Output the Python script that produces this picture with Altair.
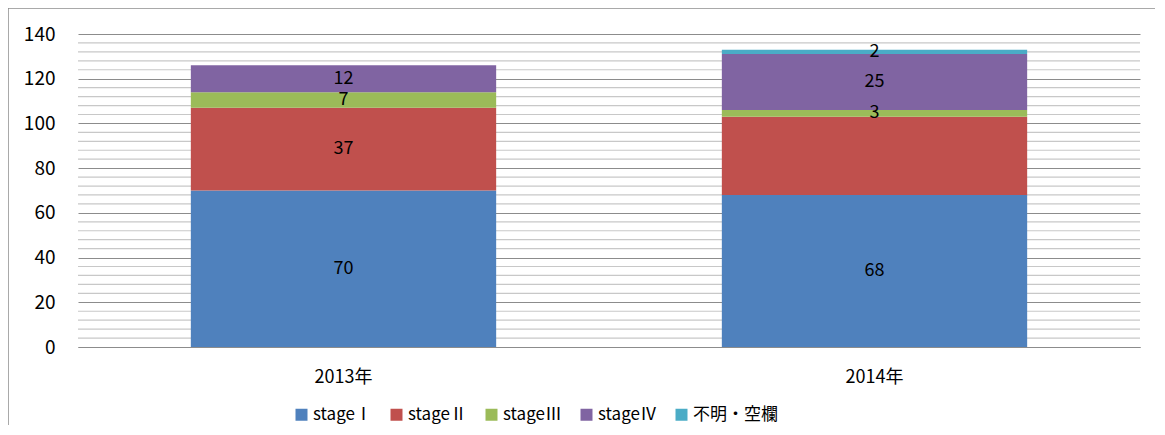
import altair as alt
import pandas as pd

years = ["2013年", "2014年"]
stages = ["stageⅠ", "stageⅡ", "stageⅢ", "stageⅣ", "不明・空欄"]
colors = ["#4F81BD", "#C0504D", "#9BBB59", "#8064A2", "#4BACC6"]
values_2013 = [70, 37, 7, 12, 0]
values_2014 = [68, 35, 3, 25, 2]
labels_2013 = ["70", "37", "7", "12", ""]
labels_2014 = ["68", "", "3", "25", "2"]
minor_ticks = [v for v in range(0, 141, 4) if v % 20 != 0]

rows = []
for yr, vals, labs in [(years[0], values_2013, labels_2013), (years[1], values_2014, labels_2014)]:
    for i, (s, v, l) in enumerate(zip(stages, vals, labs)):
        rows.append({"year": yr, "stage": s, "value": v, "label": l, "order": i})
df = pd.DataFrame(rows)

FONT = "Noto Sans CJK JP"
y_scale = alt.Scale(domain=[0, 140], nice=False)

minor_grid = alt.Chart(pd.DataFrame({"v": minor_ticks})).mark_rule(
    color="#c8c8c8", strokeWidth=1.2
).encode(y=alt.Y("v:Q", scale=y_scale, title=None))

base = alt.Chart(df).transform_stack(
    stack="value", groupby=["year"], as_=["y0", "y1"],
    sort=[alt.SortField("order", order="ascending")]
).transform_calculate(mid="(datum.y0 + datum.y1) / 2")

x_enc = alt.X("year:N", title=None, sort=years,
              scale=alt.Scale(paddingInner=0.425, paddingOuter=0.2125))

bars = base.mark_bar().encode(
    x=x_enc,
    y=alt.Y("y1:Q", title=None, scale=y_scale),
    y2="y0:Q",
    color=alt.Color("stage:N", scale=alt.Scale(domain=stages, range=colors),
                    legend=alt.Legend(title=None, orient="none", direction="horizontal",
                                      legendX=215, legendY=372, symbolType="square",
                                      symbolSize=144, symbolStrokeWidth=0,
                                      labelFontSize=17, labelFont=FONT, labelColor="#000000",
                                      columnPadding=16, labelOffset=3, padding=0)),
)

texts = base.mark_text(fontSize=18, font=FONT, color="#000000", baseline="middle").encode(
    x=alt.X("year:N", sort=years, title=None),
    y=alt.Y("mid:Q", scale=y_scale, title=None),
    text="label:N",
)

border_data = alt.Data(values=[{"k": 1}])
left_border = alt.Chart(border_data).mark_rule(color="#8c8c8c", strokeWidth=1.5).encode(
    x=alt.value(-70), y=alt.value(-26), y2=alt.value(420))
top_border = alt.Chart(border_data).mark_rule(color="#8c8c8c", strokeWidth=1.5).encode(
    x=alt.value(-70), x2=alt.value(1200), y=alt.value(-26))

chart = alt.layer(minor_grid, bars, texts, left_border, top_border).properties(
    width=1062, height=313,
    padding={"left": 70, "top": 26, "right": 15, "bottom": 78},
    autosize=alt.AutoSizeParams(type="none"),
    background="#ffffff",
).configure_view(stroke=None).configure_axisY(
    domain=False, ticks=False, tickSize=0, tickCount=7, labelOverlap=False,
    labelFontSize=19, labelFont=FONT, labelColor="#000000", labelPadding=23,
    gridColor="#8c8c8c", gridWidth=1.2,
).configure_axisX(
    grid=False, labelAngle=0, labelFontSize=18, labelFont=FONT, labelColor="#000000",
    labelPadding=21, ticks=False, tickSize=0, domainColor="#8c8c8c", domainWidth=1.2,
)

chart.save("out.html", embed_options={"renderer": "svg", "actions": False})
